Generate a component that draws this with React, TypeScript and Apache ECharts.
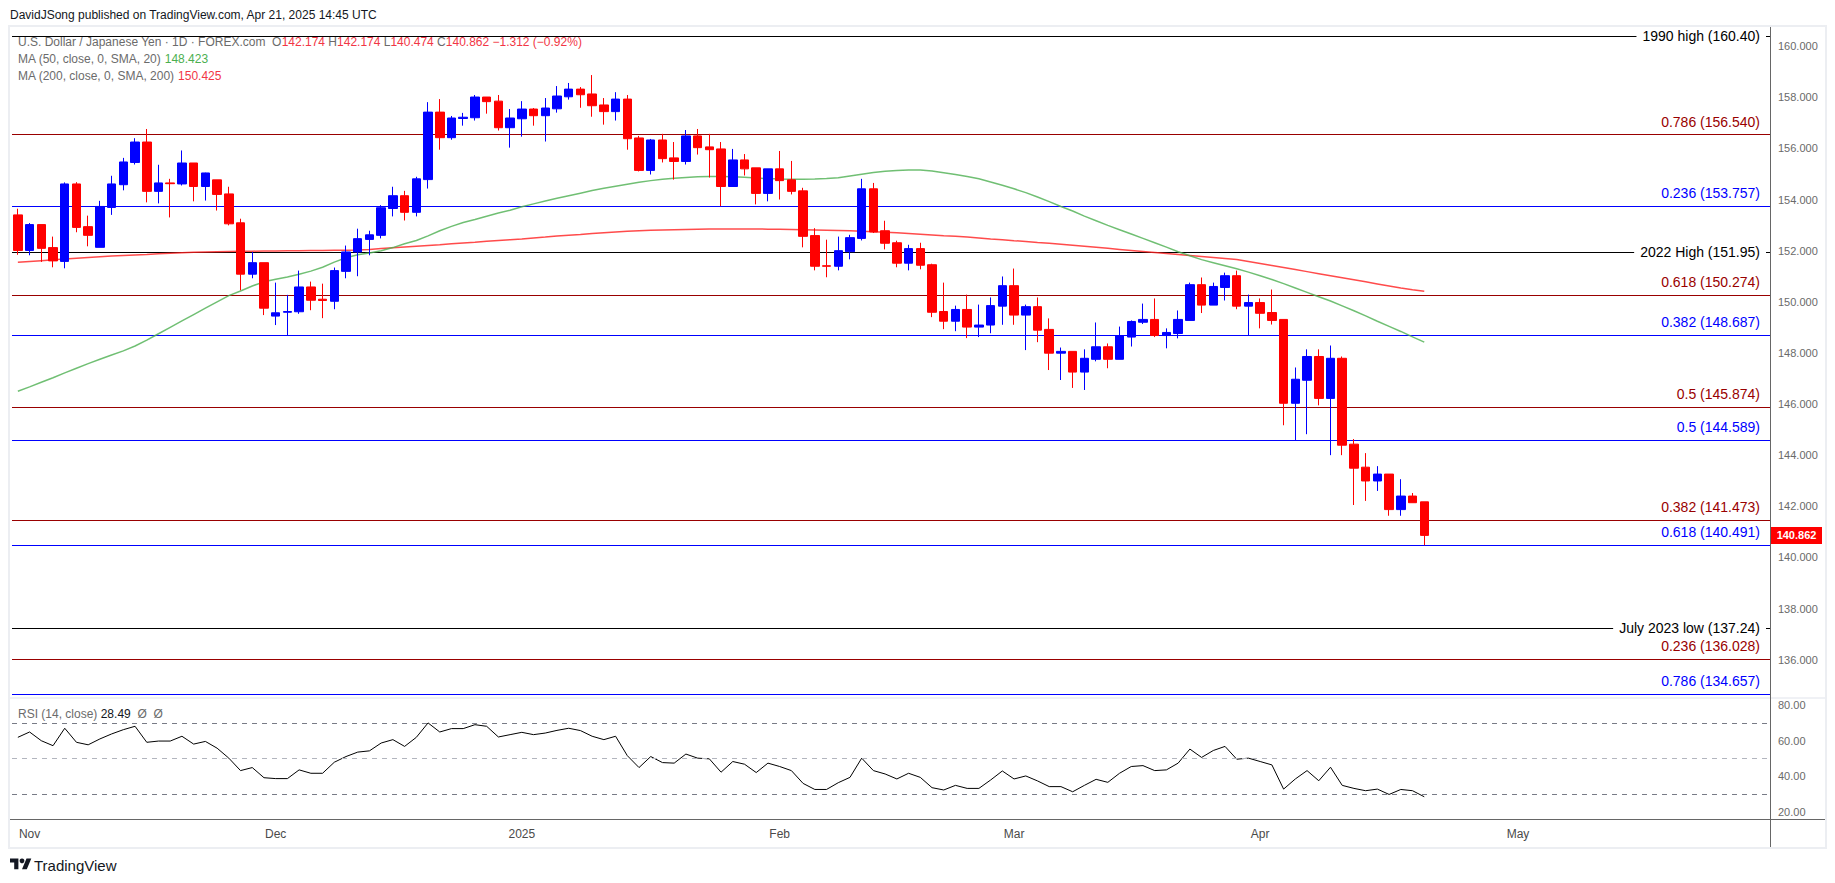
import React, { useEffect, useRef } from "react";
import * as echarts from "echarts";

// ---------- data ----------
const START_DATE = "2024-10-31";
const SKIPPED_DAYS = ["2024-12-25", "2025-01-01"];
const SLOT_COUNT = 150;

const opens = [
  153.40, 152.01, 153.02, 152.12, 151.58, 154.61, 152.94, 152.13, 153.69, 154.58,
  155.45, 156.25, 154.32, 154.65, 154.61, 155.43, 154.51, 154.77, 154.22, 153.09,
  151.08, 151.53, 149.44, 149.59, 149.61, 150.58, 150.10, 150.02, 151.19, 151.95,
  152.44, 152.60, 153.65, 154.15, 153.50, 154.78, 157.42, 156.42, 157.17, 157.20,
  158.01, 157.85, 156.81, 157.16, 157.54, 157.28, 157.55, 158.02, 158.32, 158.13,
  157.70, 157.44, 157.93, 156.41, 155.14, 156.33, 155.63, 155.49, 156.49, 156.06,
  155.98, 154.51, 155.55, 155.24, 154.24, 155.20, 154.77, 154.34, 152.59, 151.41,
  151.39, 151.96, 152.48, 154.42, 152.78, 152.31, 151.51, 152.08, 151.45, 149.62,
  149.24, 149.70, 149.01, 149.09, 149.83, 150.63, 149.48, 149.81, 148.92, 147.99,
  148.06, 147.25, 147.75, 148.24, 147.75, 148.62, 149.20, 149.31, 148.68, 148.76,
  149.27, 150.67, 149.87, 150.56, 151.02, 149.83, 149.97, 149.58, 149.31, 146.03,
  146.93, 147.86, 146.22, 147.79, 144.43, 143.53, 142.99, 143.26, 141.87, 142.40,
  142.174,
];
const highs = [
  153.64, 153.08, 153.02, 152.55, 154.67, 154.68, 153.37, 153.95, 154.93, 155.63,
  156.40, 156.76, 155.36, 154.81, 155.92, 155.43, 155.05, 154.77, 154.50, 153.25,
  151.95, 151.53, 150.75, 150.27, 151.22, 150.79, 150.71, 151.34, 152.20, 152.86,
  152.78, 153.78, 154.50, 154.34, 154.89, 157.81, 157.93, 157.27, 157.39, 158.09,
  158.01, 158.09, 157.54, 157.85, 157.58, 157.97, 158.44, 158.56, 158.40, 158.87,
  157.97, 158.20, 158.09, 156.49, 156.37, 156.57, 156.25, 156.72, 156.76, 156.57,
  156.25, 155.98, 155.78, 155.24, 155.20, 155.90, 155.51, 154.46, 152.88, 152.43,
  152.55, 152.62, 154.81, 154.65, 153.17, 152.39, 152.23, 152.31, 151.49, 150.75,
  149.85, 150.28, 149.89, 150.17, 150.99, 151.30, 149.89, 150.17, 149.35, 148.21,
  148.06, 148.14, 149.19, 148.37, 149.03, 149.27, 149.93, 150.13, 148.96, 149.66,
  150.75, 150.95, 150.75, 151.14, 151.22, 150.28, 150.13, 150.48, 149.31, 147.43,
  148.14, 148.14, 148.29, 147.86, 144.63, 144.08, 143.57, 143.26, 143.06, 142.52,
  142.174,
];
const lows = [
  151.84, 151.82, 151.56, 151.35, 151.31, 152.72, 152.17, 152.13, 153.40, 154.36,
  155.37, 153.89, 153.85, 153.30, 154.55, 153.93, 153.96, 153.57, 152.99, 150.45,
  150.92, 149.48, 149.09, 148.67, 149.53, 149.67, 149.36, 149.71, 150.92, 151.00,
  151.82, 152.48, 153.34, 153.18, 153.34, 154.43, 155.95, 156.34, 156.89, 157.09,
  157.36, 156.70, 156.03, 156.46, 156.89, 156.27, 157.40, 157.91, 157.59, 157.24,
  156.93, 157.09, 155.95, 155.10, 154.98, 155.45, 154.78, 155.37, 155.76, 154.86,
  153.74, 154.51, 154.94, 153.81, 153.93, 154.00, 154.20, 152.13, 151.23, 150.96,
  151.23, 151.66, 152.40, 152.69, 152.05, 151.35, 151.23, 151.27, 149.40, 148.93,
  148.85, 148.58, 148.62, 148.77, 149.10, 149.10, 148.11, 148.42, 147.33, 146.94,
  146.63, 146.55, 147.67, 147.40, 147.75, 148.25, 149.13, 148.62, 148.18, 148.57,
  149.27, 149.56, 149.87, 150.05, 149.71, 148.67, 148.96, 149.11, 145.17, 144.57,
  144.82, 145.95, 144.00, 144.00, 142.05, 142.21, 142.60, 141.63, 141.63, 142.14,
  140.474,
];
const closes = [
  152.01, 153.02, 152.09, 151.60, 154.61, 152.91, 152.60, 153.73, 154.61, 155.47,
  156.25, 154.32, 154.65, 154.62, 155.43, 154.51, 155.04, 154.20, 153.05, 151.08,
  151.53, 149.75, 149.57, 149.62, 150.58, 150.06, 150.05, 151.22, 151.95, 152.47,
  152.62, 153.68, 154.15, 153.50, 154.81, 157.42, 156.42, 157.19, 157.22, 158.01,
  157.83, 156.81, 157.19, 157.54, 157.28, 157.58, 158.05, 158.32, 158.10, 157.67,
  157.44, 157.93, 156.38, 155.14, 156.33, 155.60, 155.49, 156.49, 156.03, 155.95,
  154.51, 155.55, 155.20, 154.24, 155.20, 154.74, 154.32, 152.56, 151.39, 151.39,
  152.00, 152.51, 154.42, 152.73, 152.29, 151.51, 152.08, 151.43, 149.59, 149.24,
  149.70, 149.01, 149.09, 149.85, 150.63, 149.48, 149.81, 148.89, 147.99, 148.06,
  147.25, 147.79, 148.24, 147.75, 148.66, 149.23, 149.31, 148.68, 148.80, 149.31,
  150.67, 149.87, 150.60, 151.02, 149.83, 149.97, 149.55, 149.27, 146.03, 146.97,
  147.86, 146.22, 147.79, 144.39, 143.49, 142.99, 143.26, 141.87, 142.40, 142.14,
  140.862,
];
const ma50 = [
  146.50, 146.67, 146.85, 147.03, 147.22, 147.40, 147.58, 147.75, 147.92, 148.08,
  148.27, 148.50, 148.75, 149.00, 149.25, 149.50, 149.75, 150.00, 150.24, 150.42,
  150.62, 150.78, 150.88, 150.97, 151.08, 151.20, 151.35, 151.55, 151.72, 151.84,
  151.91, 152.00, 152.12, 152.27, 152.40, 152.58, 152.78, 152.95, 153.10, 153.22,
  153.35, 153.47, 153.58, 153.72, 153.83, 153.94, 154.05, 154.15, 154.25, 154.35,
  154.44, 154.52, 154.60, 154.68, 154.74, 154.79, 154.83, 154.86, 154.89, 154.90,
  154.90, 154.89, 154.87, 154.84, 154.82, 154.80, 154.79, 154.79, 154.80, 154.82,
  154.85, 154.92, 154.99, 155.06, 155.11, 155.14, 155.16, 155.16, 155.12, 155.05,
  154.98, 154.90, 154.81, 154.69, 154.56, 154.42, 154.27, 154.10, 153.92, 153.73,
  153.55, 153.35, 153.17, 152.99, 152.82, 152.65, 152.48, 152.31, 152.14, 151.96,
  151.80, 151.65, 151.53, 151.41, 151.29, 151.16, 151.02, 150.87, 150.71, 150.54,
  150.37, 150.20, 150.03, 149.84, 149.65, 149.45, 149.24, 149.04, 148.84, 148.63,
  148.42,
];
const ma200 = [
  151.55, 151.58, 151.61, 151.64, 151.67, 151.70, 151.73, 151.76, 151.79, 151.81,
  151.83, 151.85, 151.88, 151.90, 151.92, 151.94, 151.95, 151.96, 151.97, 151.98,
  151.98, 151.99, 151.99, 152.00, 152.00, 152.01, 152.01, 152.02, 152.02, 152.03,
  152.05, 152.08, 152.11, 152.14, 152.17, 152.20, 152.23, 152.27, 152.30, 152.33,
  152.37, 152.40, 152.43, 152.46, 152.50, 152.53, 152.57, 152.60, 152.63, 152.67,
  152.70, 152.73, 152.76, 152.78, 152.80, 152.81, 152.82, 152.83, 152.84, 152.85,
  152.85, 152.85, 152.85, 152.85, 152.84, 152.84, 152.83, 152.82, 152.81, 152.80,
  152.79, 152.78, 152.76, 152.74, 152.72, 152.70, 152.67, 152.64, 152.61, 152.58,
  152.56, 152.53, 152.50, 152.46, 152.43, 152.39, 152.36, 152.32, 152.29, 152.25,
  152.21, 152.17, 152.13, 152.09, 152.05, 152.01, 151.97, 151.93, 151.89, 151.85,
  151.81, 151.77, 151.73, 151.69, 151.65, 151.58, 151.50, 151.42, 151.34, 151.26,
  151.18, 151.10, 151.02, 150.94, 150.86, 150.78, 150.70, 150.62, 150.54, 150.47,
  150.41,
];
const rsi = [
  61.9, 64.9, 60.0, 57.2, 67.0, 59.1, 57.7, 61.0, 63.8, 66.2,
  68.1, 59.1, 59.8, 59.8, 62.5, 58.1, 59.6, 55.8, 50.2, 43.2,
  44.9, 39.2, 38.7, 38.7, 43.6, 41.7, 41.7, 47.9, 51.1, 53.6,
  54.3, 58.7, 60.6, 56.8, 61.9, 70.0, 64.9, 66.8, 66.8, 69.0,
  68.1, 62.1, 63.4, 64.7, 63.4, 64.3, 65.8, 67.0, 65.7, 62.5,
  60.6, 62.5, 51.6, 44.9, 51.1, 47.7, 47.4, 52.5, 50.2, 49.8,
  42.3, 48.3, 46.8, 42.1, 47.4, 45.5, 43.2, 36.0, 32.6, 32.6,
  36.4, 39.4, 50.2, 43.2, 41.3, 38.5, 41.7, 39.4, 33.6, 32.3,
  34.9, 33.2, 33.2, 37.9, 43.0, 38.5, 40.2, 37.4, 34.2, 34.2,
  31.3, 34.9, 38.3, 36.6, 41.7, 45.5, 46.0, 43.2, 43.6, 47.4,
  55.3, 50.6, 54.5, 56.8, 49.6, 50.2, 48.3, 46.4, 32.8, 38.5,
  43.2, 37.5, 45.1, 34.9, 33.2, 31.9, 32.8, 29.8, 32.6, 31.9,
  28.49,
];

const levelValues = [160.40, 156.540, 153.757, 151.95, 150.274, 148.687, 145.874, 144.589, 141.473, 140.491, 137.24, 136.028, 134.657];
const levelTexts = [
  "1990 high (160.40)", "0.786 (156.540)", "0.236 (153.757)", "2022 High (151.95)",
  "0.618 (150.274)", "0.382 (148.687)", "0.5 (145.874)", "0.5 (144.589)",
  "0.382 (141.473)", "0.618 (140.491)", "July 2023 low (137.24)", "0.236 (136.028)", "0.786 (134.657)",
];
const levelKinds = ["key", "red", "blue", "key", "red", "blue", "red", "blue", "red", "blue", "key", "red", "blue"];

const priceTicks = [136, 138, 140, 142, 144, 146, 148, 150, 152, 154, 156, 158, 160];
const rsiTicks = [20, 40, 60, 80];
const rsiLevels = [70, 50, 30];
const monthNames = ["Jan", "Feb", "Mar", "Apr", "May", "Jun", "Jul", "Aug", "Sep", "Oct", "Nov", "Dec"];

// ---------- helpers ----------
function businessDays(start: string, n: number, skip: string[]): string[] {
  const out: string[] = [];
  const d = new Date(start + "T00:00:00Z");
  while (out.length < n) {
    const wd = d.getUTCDay();
    const s = d.toISOString().slice(0, 10);
    if (wd !== 0 && wd !== 6 && skip.indexOf(s) < 0) out.push(s);
    d.setUTCDate(d.getUTCDate() + 1);
  }
  return out;
}

const FONT = "'Liberation Sans', Arial, sans-serif";
const C_RED = "#ff0000";
const C_BLUE = "#0000ff";
const C_DARKRED = "#990000";

export default function App() {
  const ref = useRef<HTMLDivElement | null>(null);

  useEffect(() => {
    if (!ref.current) return;
    try {
      echarts.graphic.registerShape(
        "tvlogo",
        echarts.graphic.extendPath("M14 22H7V11H0V4h14v18zM28 22h-8l7.5-18h8L28 22z", {}) as any
      );
    } catch (e) {}
    const chart = echarts.init(ref.current, undefined, { renderer: "svg" });

    const dates = businessDays(START_DATE, SLOT_COUNT, SKIPPED_DAYS);
    const labelSet = new Set<number>();
    for (let i = 1; i < dates.length; i++) {
      if (dates[i].slice(5, 7) !== dates[i - 1].slice(5, 7)) labelSet.add(i);
    }
    const candleData = opens.map((o, i) => [o, closes[i], lows[i], highs[i]]);

    const markData = levelValues.map((v, i) => {
      const kind = levelKinds[i];
      const color = kind === "key" ? "#000000" : kind === "red" ? C_DARKRED : C_BLUE;
      return {
        yAxis: v,
        lineStyle: { color, width: 1, type: "solid" },
        label: kind === "key"
          ? {
              show: true, formatter: levelTexts[i], position: "insideEnd", color: "#000",
              fontSize: 14, fontFamily: FONT, backgroundColor: "#ffffff", padding: [2, 6, 2, 6], distance: 4,
            }
          : {
              show: true, formatter: levelTexts[i], position: "insideEndTop", color,
              fontSize: 14, fontFamily: FONT, distance: [10, 6],
            },
      };
    });

    const option: any = {
      animation: false,
      backgroundColor: "#ffffff",
      textStyle: { fontFamily: FONT },
      grid: [
        { left: 12, right: 65, top: 27, height: 671 },
        { left: 12, right: 65, top: 698, height: 121 },
      ],
      xAxis: [
        {
          type: "category", gridIndex: 0, data: dates, boundaryGap: true,
          axisLine: { show: false }, axisTick: { show: false }, axisLabel: { show: false }, splitLine: { show: false },
        },
        {
          type: "category", gridIndex: 1, data: dates, boundaryGap: true,
          axisLine: { show: false }, axisTick: { show: false }, splitLine: { show: false },
          axisLabel: {
            interval: (i: number) => labelSet.has(i),
            formatter: (v: string) => {
              const m = parseInt(v.slice(5, 7), 10) - 1;
              return m === 0 ? v.slice(0, 4) : monthNames[m];
            },
            color: "#4a4a4a", fontSize: 12, margin: 9, fontFamily: FONT,
          },
        },
      ],
      yAxis: [
        {
          type: "value", gridIndex: 0, position: "right", min: 134.5, max: 160.75, interval: 0.5,
          axisLine: { show: false }, axisTick: { show: false }, splitLine: { show: false },
          axisLabel: {
            color: "#6a6a6a", fontSize: 11, margin: 8, fontFamily: FONT,
            formatter: (v: number) => {
              const r = Math.round(v);
              return Math.abs(v - r) < 1e-6 && priceTicks.indexOf(r) >= 0 ? r.toFixed(3) : "";
            },
          },
        },
        {
          type: "value", gridIndex: 1, position: "right", min: 16, max: 84, interval: 4,
          axisLine: { show: false }, axisTick: { show: false }, splitLine: { show: false },
          axisLabel: {
            color: "#6a6a6a", fontSize: 11, margin: 8, fontFamily: FONT,
            formatter: (v: number) => {
              const r = Math.round(v);
              return Math.abs(v - r) < 1e-6 && rsiTicks.indexOf(r) >= 0 ? r.toFixed(2) : "";
            },
          },
        },
      ],
      series: [
        {
          type: "line", name: "MA200", xAxisIndex: 0, yAxisIndex: 0, data: ma200, symbol: "none",
          lineStyle: { color: "rgba(255,30,30,0.8)", width: 1.5 }, z: 2, silent: true,
        },
        {
          type: "line", name: "MA50", xAxisIndex: 0, yAxisIndex: 0, data: ma50, symbol: "none",
          lineStyle: { color: "rgba(76,175,80,0.8)", width: 1.5 }, z: 2, silent: true,
        },
        {
          type: "candlestick", name: "USDJPY", xAxisIndex: 0, yAxisIndex: 0, data: candleData,
          barWidth: 9, z: 3, silent: true,
          itemStyle: { color: C_BLUE, color0: C_RED, borderColor: C_BLUE, borderColor0: C_RED, borderWidth: 1 },
          markLine: { silent: true, symbol: ["none", "none"], precision: 3, data: markData, z: 1 },
        },
        {
          type: "line", name: "RSI", xAxisIndex: 1, yAxisIndex: 1, data: rsi, symbol: "none",
          lineStyle: { color: "#000000", width: 1 }, silent: true,
          markLine: {
            silent: true, symbol: ["none", "none"],
            data: rsiLevels.map((v) => ({
              yAxis: v,
              lineStyle: { color: v === 50 ? "#b2b5be" : "#787b86", width: 1, type: [5, 5] },
              label: { show: false },
            })),
          },
        },
      ],
    };
    chart.setOption(option);

    const lastClose = closes[closes.length - 1];
    const yp = chart.convertToPixel({ yAxisIndex: 0 } as any, lastClose) as number;
    const gray = "#6b6b6b";
    const graphics: any[] = [
      { type: "rect", shape: { x: 9, y: 26, width: 1817, height: 822 }, style: { fill: "none", stroke: "#eceef2", lineWidth: 2 }, z: 0, silent: true },
      { type: "line", shape: { x1: 10, y1: 698, x2: 1825, y2: 698 }, style: { stroke: "#e0e3eb", lineWidth: 1 }, silent: true },
      { type: "line", shape: { x1: 10, y1: 819.5, x2: 1825, y2: 819.5 }, style: { stroke: "#666", lineWidth: 1 }, silent: true },
      { type: "line", shape: { x1: 1770.5, y1: 27, x2: 1770.5, y2: 847 }, style: { stroke: "#666", lineWidth: 1 }, silent: true },
      {
        type: "text", x: 10, y: 15, silent: true,
        style: { text: "DavidJSong published on TradingView.com, Apr 21, 2025 14:45 UTC", fill: "#131722", font: `12px ${FONT}`, verticalAlign: "middle" },
      },
      {
        type: "text", x: 18, y: 42, silent: true,
        style: {
          text: "{g|U.S. Dollar / Japanese Yen · 1D · FOREX.com  O}{r|142.174}{g| H}{r|142.174}{g| L}{r|140.474}{g| C}{r|140.862}{r| −1.312 (−0.92%)}",
          verticalAlign: "middle",
          rich: {
            g: { fill: gray, fontSize: 12, fontFamily: FONT },
            r: { fill: "#f23645", fontSize: 12, fontFamily: FONT },
          },
        },
      },
      {
        type: "text", x: 18, y: 59, silent: true,
        style: {
          text: "{g|MA (50, close, 0, SMA, 20)}{v| 148.423}", verticalAlign: "middle",
          rich: { g: { fill: gray, fontSize: 12, fontFamily: FONT }, v: { fill: "#4caf50", fontSize: 12, fontFamily: FONT } },
        },
      },
      {
        type: "text", x: 18, y: 76, silent: true,
        style: {
          text: "{g|MA (200, close, 0, SMA, 200)}{v| 150.425}", verticalAlign: "middle",
          rich: { g: { fill: gray, fontSize: 12, fontFamily: FONT }, v: { fill: "#f23645", fontSize: 12, fontFamily: FONT } },
        },
      },
      {
        type: "text", x: 18, y: 714, silent: true,
        style: {
          text: "{g|RSI (14, close)}{v| 28.49}{g|  Ø  Ø}", verticalAlign: "middle",
          rich: { g: { fill: gray, fontSize: 12, fontFamily: FONT }, v: { fill: "#131722", fontSize: 12, fontFamily: FONT } },
        },
      },
      { type: "rect", shape: { x: 1771, y: yp - 8.5, width: 51, height: 17 }, style: { fill: "#ff0000" }, silent: true },
      {
        type: "text", x: 1796.5, y: yp, silent: true,
        style: { text: lastClose.toFixed(3), fill: "#ffffff", font: `bold 11px ${FONT}`, align: "center", verticalAlign: "middle" },
      },
      { type: "tvlogo", x: 10, y: 856, scaleX: 0.6, scaleY: 0.6, style: { fill: "#131722" }, silent: true },
      { type: "circle", shape: { cx: 10 + 20 * 0.6, cy: 856 + 8 * 0.6, r: 4 * 0.6 }, style: { fill: "#131722" }, silent: true },
      {
        type: "text", x: 34, y: 865, silent: true,
        style: { text: "TradingView", fill: "#131722", font: `15px ${FONT}`, verticalAlign: "middle" },
      },
    ];
    chart.setOption({ graphic: graphics });

    return () => chart.dispose();
  }, []);

  return (
    <div
      ref={ref}
      style={{ position: "fixed", left: 0, top: 0, width: 1835, height: 883, background: "#fff" }}
    />
  );
}
